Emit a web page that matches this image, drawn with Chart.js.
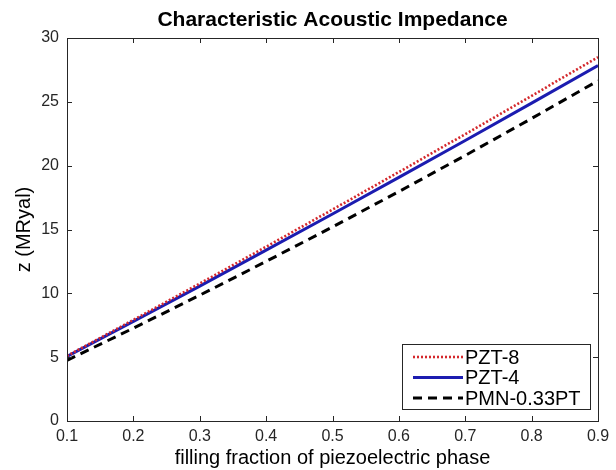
<!DOCTYPE html>
<html>
<head>
<meta charset="utf-8">
<script src="https://cdn.jsdelivr.net/npm/chart.js@4"></script>
<style>
  html, body { margin: 0; padding: 0; background: #ffffff; }
  #wrap { width: 616px; height: 470px; }
</style>
</head>
<body>
<div id="wrap"><canvas id="c" width="616" height="470"></canvas></div>
<script>
// ---- data ----
const fraction = [0.1, 0.2, 0.3, 0.4, 0.5, 0.6, 0.7, 0.8, 0.9];
const pzt8 = [5.10, 7.92, 10.77, 13.65, 16.56, 19.50, 22.47, 25.47, 28.50];
const pzt4 = [5.05, 7.80, 10.57, 13.38, 16.21, 19.08, 21.97, 24.90, 27.85];
const pmn  = [4.75, 7.27, 9.85, 12.50, 15.20, 17.97, 20.80, 23.70, 26.65];
const seriesNames = ['PZT-8', 'PZT-4', 'PMN-0.33PT'];
const xTickValues = [0.1, 0.2, 0.3, 0.4, 0.5, 0.6, 0.7, 0.8, 0.9];
const xTickLabels = ['0.1', '0.2', '0.3', '0.4', '0.5', '0.6', '0.7', '0.8', '0.9'];
const yTickValues = [0, 5, 10, 15, 20, 25, 30];
const yTickLabels = ['0', '5', '10', '15', '20', '25', '30'];
const titleText = 'Characteristic Acoustic Impedance';
const xTitle = 'filling fraction of piezoelectric phase';
const yTitle = 'z (MRyal)';

const FONT = "'Liberation Sans', Arial, Helvetica, sans-serif";
const AXIS_COLOR = '#262626';

function pts(ys) { return fraction.map((x, i) => ({ x: x, y: ys[i] })); }

const frameTicks = {
  id: 'frameTicks',
  afterDatasetsDraw(chart) {
    const { ctx, chartArea: a, scales } = chart;
    const len = 5;
    ctx.save();
    ctx.strokeStyle = AXIS_COLOR;
    ctx.lineWidth = 1;
    ctx.beginPath();
    xTickValues.forEach(v => {
      const px = Math.round(scales.x.getPixelForValue(v)) + 0.5;
      ctx.moveTo(px, a.bottom); ctx.lineTo(px, a.bottom - len);
      ctx.moveTo(px, a.top); ctx.lineTo(px, a.top + len);
    });
    yTickValues.forEach(v => {
      const py = Math.round(scales.y.getPixelForValue(v)) + 0.5;
      ctx.moveTo(a.left, py); ctx.lineTo(a.left + len, py);
      ctx.moveTo(a.right, py); ctx.lineTo(a.right - len, py);
    });
    ctx.stroke();
    ctx.strokeRect(Math.round(a.left) + 0.5, Math.round(a.top) + 0.5,
                   Math.round(a.right - a.left), Math.round(a.bottom - a.top));
    // title centred over the axes box
    ctx.fillStyle = '#000000';
    ctx.font = 'bold 21px ' + FONT;
    ctx.textAlign = 'center';
    ctx.textBaseline = 'alphabetic';
    ctx.fillText(titleText, (a.left + a.right) / 2, 26);
    ctx.restore();
  }
};

const boxLegend = {
  id: 'boxLegend',
  afterDraw(chart) {
    const { ctx, chartArea: a } = chart;
    const right = a.right - 8, bottom = a.bottom - 12;
    const rowH = 20.5, w = 188, h = 65;
    const left = right - w, top = bottom - h;
    ctx.save();
    ctx.fillStyle = '#ffffff';
    ctx.fillRect(left, top, w, h);
    ctx.strokeStyle = AXIS_COLOR;
    ctx.lineWidth = 1;
    ctx.strokeRect(Math.round(left) + 0.5, Math.round(top) + 0.5, w, h);
    ctx.font = '20px ' + FONT;
    ctx.textBaseline = 'middle';
    ctx.textAlign = 'left';
    chart.data.datasets.forEach((ds, i) => {
      const y = top + 13 + i * rowH;
      ctx.save();
      ctx.strokeStyle = ds.borderColor;
      ctx.lineWidth = ds.borderWidth;
      ctx.setLineDash(ds.borderDash || []);
      ctx.beginPath();
      ctx.moveTo(left + 11, y);
      ctx.lineTo(left + 61, y);
      ctx.stroke();
      ctx.restore();
      ctx.fillStyle = '#000000';
      ctx.fillText(ds.label, left + 63, y + 1);
    });
    ctx.restore();
  }
};

new Chart(document.getElementById('c'), {
  type: 'line',
  data: {
    datasets: [
      { label: seriesNames[0], data: pts(pzt8), borderColor: '#d4282c', borderWidth: 2.6, borderDash: [2, 2], pointRadius: 0, fill: false },
      { label: seriesNames[1], data: pts(pzt4), borderColor: '#1c1cb0', borderWidth: 3, pointRadius: 0, fill: false },
      { label: seriesNames[2], data: pts(pmn),  borderColor: '#000000', borderWidth: 3, borderDash: [9, 6], pointRadius: 0, fill: false }
    ]
  },
  options: {
    responsive: false,
    animation: false,
    layout: { padding: { left: 0, right: 18, top: 38, bottom: 0 } },
    plugins: {
      legend: { display: false },
      tooltip: { enabled: false },
      title: { display: false }
    },
    scales: {
      x: {
        type: 'linear',
        min: 0.1, max: 0.9,
        afterBuildTicks(scale) { scale.ticks = xTickValues.map(v => ({ value: v })); },
        afterFit(scale) { scale.height = 49; },
        grid: { display: false, drawTicks: false },
        border: { display: false },
        ticks: {
          color: AXIS_COLOR,
          font: { family: FONT, size: 16 },
          padding: 6,
          maxRotation: 0,
          autoSkip: false,
          callback: (v) => { const i = xTickValues.findIndex(t => Math.abs(t - v) < 1e-9); return i >= 0 ? xTickLabels[i] : ''; }
        },
        title: {
          display: true,
          text: xTitle,
          color: '#000000',
          font: { family: FONT, size: 20, lineHeight: 1.2 },
          padding: { top: 0, bottom: 0 }
        }
      },
      y: {
        type: 'linear',
        min: 0, max: 30,
        afterBuildTicks(scale) { scale.ticks = yTickValues.map(v => ({ value: v })); },
        afterFit(scale) { scale.width = 67; },
        grid: { display: false, drawTicks: false },
        border: { display: false },
        ticks: {
          color: AXIS_COLOR,
          font: { family: FONT, size: 16 },
          padding: 8,
          autoSkip: false,
          callback: (v) => { const i = yTickValues.indexOf(v); return i >= 0 ? yTickLabels[i] : ''; }
        },
        title: {
          display: true,
          text: yTitle,
          color: '#000000',
          font: { family: FONT, size: 20, lineHeight: 1.2 },
          padding: { top: 12, bottom: 0 }
        }
      }
    }
  },
  plugins: [frameTicks, boxLegend]
});
</script>
</body>
</html>
